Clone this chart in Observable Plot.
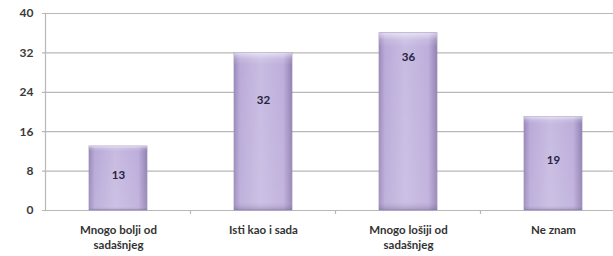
<!DOCTYPE html>
<html>
<head>
<meta charset="utf-8">
<script src="https://cdn.jsdelivr.net/npm/d3@7"></script>
<script src="https://cdn.jsdelivr.net/npm/@observablehq/plot@0.6"></script>
<style>
  html, body { margin: 0; padding: 0; background: #fff; }
  #chart { width: 613px; height: 256px; overflow: hidden; }
</style>
</head>
<body>
<div id="chart"></div>
<script>
const categories = ["Mnogo bolji od sadašnjeg", "Isti kao i sada", "Mnogo lošiji od sadašnjeg", "Ne znam"];
const values = [13, 32, 36, 19];
const labelAt = [7.2, 22.4, 31.2, 10.1];
const yTicks = [0, 8, 16, 24, 32, 40];
const xLabelLines = [["Mnogo bolji od", "sadašnjeg"], ["Isti kao i sada"], ["Mnogo lošiji od", "sadašnjeg"], ["Ne znam"]];

const data = categories.map((c, i) => ({cat: c, value: values[i], labelY: labelAt[i], lines: xLabelLines[i]}));

const font = "Lato, 'Open Sans', sans-serif";

const plot = Plot.plot({
  width: 613,
  height: 256,
  marginLeft: 45,
  marginRight: 0,
  marginTop: 13,
  marginBottom: 46,
  style: {fontFamily: font, background: "#fff"},
  x: {domain: categories, range: [45, 626], paddingInner: 0.6, paddingOuter: 0.3, axis: null},
  y: {domain: [0, 40], axis: null},
  marks: [
    Plot.gridY(yTicks, {stroke: "#b8b8b8", strokeOpacity: 1, strokeWidth: 1.2, insetLeft: -3}),
    Plot.frame({anchor: "left", stroke: "#b8b8b8", strokeWidth: 1.2}),
    Plot.axisY(yTicks, {tickSize: 0, tickPadding: 12, fontSize: 12, fontWeight: "bold", fill: "#3a3a3a"}),
    Plot.barY(data, {x: "cat", y: "value", fill: "url(#barGradH)", stroke: "#9c8cbc", strokeWidth: 0.7}),
    Plot.barY(data, {x: "cat", y: "value", fill: "url(#barGradV)"}),
    Plot.text(data, {x: "cat", y: "labelY", text: d => String(d.value), fontSize: 11.5, fontWeight: "bold", fill: "#26233f"}),
    Plot.text(data, {x: "cat", y: 0, text: d => d.lines.join("\n"), lineAnchor: "top", dy: 12, lineHeight: 1.35, fontSize: 11.5, fontWeight: "bold", fill: "#333"})
  ]
});

// boundary tick marks under the x axis between categories
const xs = plot.scale("x"), ys = plot.scale("y");
const ns = "http://www.w3.org/2000/svg";
const g = document.createElementNS(ns, "g");
categories.slice(0, 3).forEach((c) => {
  const x = xs.apply(c) + xs.bandwidth + (xs.step - xs.bandwidth) / 2;
  const y0 = ys.apply(0);
  const l = document.createElementNS(ns, "line");
  l.setAttribute("x1", x); l.setAttribute("x2", x);
  l.setAttribute("y1", y0); l.setAttribute("y2", y0 + 4);
  l.setAttribute("stroke", "#b8b8b8"); l.setAttribute("stroke-width", "1.2");
  g.appendChild(l);
});
plot.appendChild(g);

const defs = document.createElementNS(ns, "defs");
defs.innerHTML = `
<linearGradient id="barGradH" x1="0" x2="1" y1="0" y2="0">
  <stop offset="0%" stop-color="#9a8aba"/>
  <stop offset="10%" stop-color="#b9aad8"/>
  <stop offset="45%" stop-color="#c8bce2"/>
  <stop offset="85%" stop-color="#bdaedb"/>
  <stop offset="100%" stop-color="#9282b2"/>
</linearGradient>
<linearGradient id="barGradV" x1="0" x2="0" y1="0" y2="1">
  <stop offset="0%" stop-color="#ffffff" stop-opacity="0.6"/>
  <stop offset="4%" stop-color="#ffffff" stop-opacity="0.15"/>
  <stop offset="8%" stop-color="#ffffff" stop-opacity="0"/>
  <stop offset="94%" stop-color="#ffffff" stop-opacity="0.08"/>
  <stop offset="100%" stop-color="#6f5d92" stop-opacity="0.35"/>
</linearGradient>`;
plot.insertBefore(defs, plot.firstChild);
document.getElementById("chart").appendChild(plot);
</script>
</body>
</html>
